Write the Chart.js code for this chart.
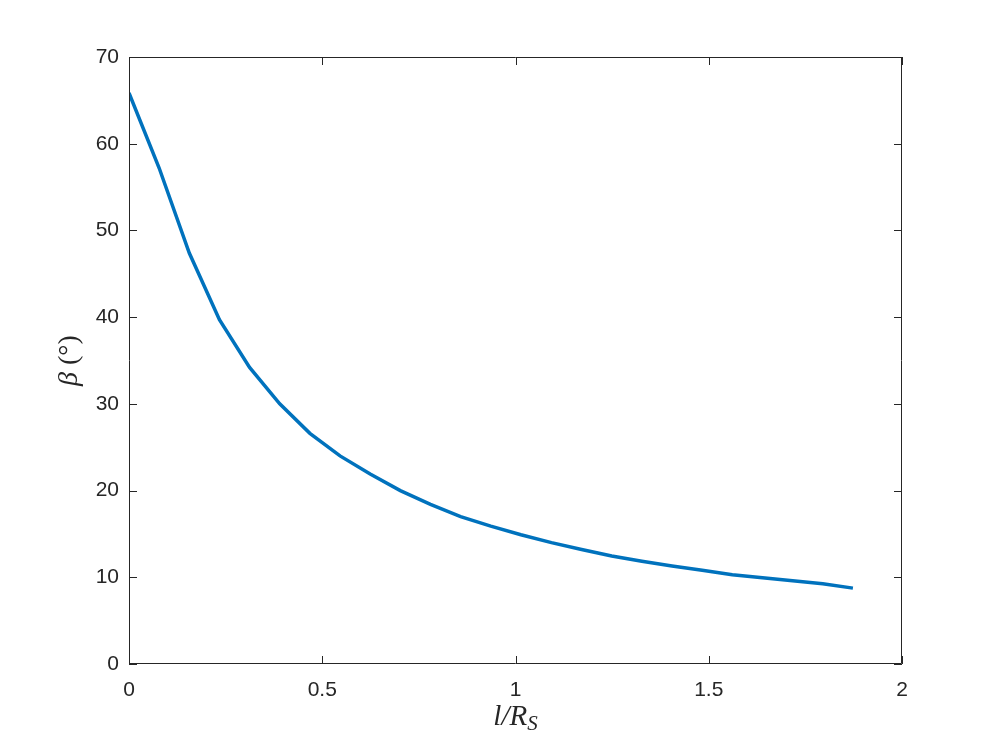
<!DOCTYPE html>
<html>
<head>
<meta charset="utf-8">
<script src="https://cdn.jsdelivr.net/npm/chart.js@4"></script>
<style>
html,body{margin:0;padding:0;background:#fff;}
#c{display:block;}
</style>
</head>
<body>
<canvas id="c" width="997" height="746"></canvas>
<script>
// Data
const lValues = [0, 0.078, 0.156, 0.234, 0.312, 0.390, 0.468, 0.546, 0.624, 0.702, 0.780, 0.858, 0.936, 1.014, 1.093, 1.171, 1.249, 1.327, 1.405, 1.483, 1.561, 1.639, 1.717, 1.795, 1.873];
const betaValues = [65.85, 57.2, 47.4, 39.7, 34.2, 30.0, 26.6, 24.0, 21.9, 20.0, 18.4, 17.0, 15.9, 14.9, 14.0, 13.2, 12.45, 11.85, 11.3, 10.8, 10.3, 9.95, 9.6, 9.25, 8.75];
const xTicks = [0, 0.5, 1, 1.5, 2];
const yTicks = [0, 10, 20, 30, 40, 50, 60, 70];

const points = lValues.map((x, i) => ({x: x, y: betaValues[i]}));
const axisColor = '#262626';
const tickFont = {family: 'Liberation Sans, Arial, Helvetica, sans-serif', size: 21};

const boxPlugin = {
  id: 'box',
  afterDraw(chart) {
    const {ctx, chartArea: a, scales} = chart;
    ctx.save();
    ctx.strokeStyle = axisColor;
    ctx.lineWidth = 1;
    ctx.beginPath();
    ctx.rect(a.left + 0.5, a.top + 0.5, a.right - a.left - 1, a.bottom - a.top - 1);
    ctx.stroke();
    const tl = 8;
    ctx.beginPath();
    xTicks.forEach(v => {
      const px = Math.round(scales.x.getPixelForValue(v)) + 0.5;
      ctx.moveTo(px, a.bottom); ctx.lineTo(px, a.bottom - tl);
      ctx.moveTo(px, a.top); ctx.lineTo(px, a.top + tl);
    });
    yTicks.forEach(v => {
      const py = Math.round(scales.y.getPixelForValue(v)) + 0.5;
      ctx.moveTo(a.left, py); ctx.lineTo(a.left + tl, py);
      ctx.moveTo(a.right, py); ctx.lineTo(a.right - tl, py);
    });
    ctx.stroke();

    // axis titles
    ctx.fillStyle = axisColor;
    const serif = 'Liberation Serif, Times New Roman, serif';
    // x title: l/R_S
    const cx = (a.left + a.right) / 2;
    const by = 725;
    ctx.font = 'italic 29px ' + serif;
    const t1 = 'l/R';
    const w1 = ctx.measureText(t1).width;
    ctx.font = 'italic 21px ' + serif;
    const w2 = ctx.measureText('S').width;
    let sx = cx - (w1 + w2) / 2;
    ctx.textBaseline = 'alphabetic';
    ctx.textAlign = 'left';
    ctx.font = 'italic 29px ' + serif;
    ctx.fillText(t1, sx, by);
    ctx.font = 'italic 21px ' + serif;
    ctx.fillText('S', sx + w1, by + 5);

    // y title: β (°)
    ctx.translate(77, (a.top + a.bottom) / 2);
    ctx.rotate(-Math.PI / 2);
    ctx.font = 'italic 28px ' + serif;
    const wb = ctx.measureText('\u03B2 ').width;
    ctx.font = '28px ' + serif;
    const wp = ctx.measureText('(\u00B0)').width;
    let yx = -(wb + wp) / 2;
    ctx.textAlign = 'left';
    ctx.font = 'italic 28px ' + serif;
    ctx.fillText('\u03B2', yx, 0);
    ctx.font = '28px ' + serif;
    ctx.fillText('(\u00B0)', yx + wb, 0);
    ctx.restore();
  }
};

new Chart(document.getElementById('c'), {
  type: 'line',
  data: {
    datasets: [{
      data: points,
      borderColor: '#0072BD',
      borderWidth: 3.5,
      pointRadius: 0,
      fill: false,
      tension: 0
    }]
  },
  options: {
    responsive: false,
    animation: false,
    devicePixelRatio: 1,
    layout: {padding: {left: 0, top: 57, right: 95, bottom: 0}},
    plugins: {legend: {display: false}, tooltip: {enabled: false}},
    scales: {
      x: {
        type: 'linear', min: 0, max: 2,
        afterFit(s) { s.height = 82; },
        afterBuildTicks(s) { s.ticks = xTicks.map(v => ({value: v})); },
        grid: {display: false, drawTicks: false},
        border: {display: false},
        ticks: {color: axisColor, font: tickFont, padding: 14, maxRotation: 0,
          callback: v => String(v)}
      },
      y: {
        type: 'linear', min: 0, max: 70,
        afterFit(s) { s.width = 129; },
        afterBuildTicks(s) { s.ticks = yTicks.map(v => ({value: v})); },
        grid: {display: false, drawTicks: false},
        border: {display: false},
        ticks: {color: axisColor, font: tickFont, padding: 10,
          callback: v => String(v)}
      }
    }
  },
  plugins: [boxPlugin]
});
</script>
</body>
</html>
